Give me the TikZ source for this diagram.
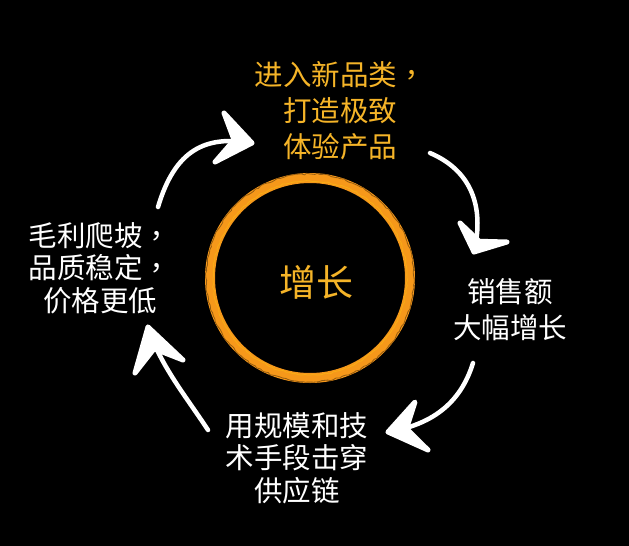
\documentclass[tikz,border=0pt]{standalone}
\usepackage{fontspec}
\newfontfamily\cjk{Noto Sans CJK SC}
\newfontfamily\cjktc{Noto Sans CJK TC}
\newcommand{\cmz}{{\cjktc ，}}
\usetikzlibrary{decorations.pathmorphing,calc}
\definecolor{gold}{RGB}{245,180,40}
\definecolor{ringorange}{RGB}{246,152,26}
\begin{document}
\begin{tikzpicture}[x=1pt,y=-1pt,
  lbl/.style={font=\cjk\fontsize{28.5}{36}\selectfont, align=center, inner sep=0pt, text=white},
  lbltight/.style={lbl, font=\cjk\fontsize{28.5}{32.5}\selectfont},
  chalk/.style={draw=white, line width=4.5pt, line cap=round, line join=round},
  chalkhead/.style={draw=white, fill=white, line width=5pt, line cap=round, line join=round},
  texture/.style={line width=0.8pt, decorate, decoration={random steps, segment length=3pt, amplitude=0.8pt}}
]
\fill[black] (0,0) rectangle (629,546);
\useasboundingbox (0,0) rectangle (629,546);

% ring
\node[circle, draw=ringorange, line width=10pt, minimum size=200pt, inner sep=0pt] (ring) at (310,278) {};
\draw[texture, ringorange!60!black] (ring.center) circle[radius=104pt];
\draw[texture, ringorange!80!yellow] (ring.center) circle[radius=97pt];
\node[font=\cjk\fontsize{37}{40}\selectfont, text=gold, inner sep=0pt] (core) at (316,282) {增长};

% labels
\node[lbl, text=gold] (top) at (340,111) {进入新品类\cmz\\打造极致\\体验产品};
\node[lbl] (right) at (510,310) {销售额\\大幅增长};
\node[lbltight] (bottom) at (297,458) {用规模和技\\术手段击穿\\供应链};
\node[lbltight] (left) at (100,268) {毛利爬坡\cmz\\品质稳定\cmz\\价格更低};

% arrow coordinates
\coordinate (a1s) at (158,207); \coordinate (a1t) at (252,143);
\coordinate (a1p) at (224,113); \coordinate (a1q) at (215,162);
\coordinate (a2s) at (430,153); \coordinate (a2t) at (474,252);
\coordinate (a2p) at (460,223); \coordinate (a2q) at (507,242);
\coordinate (a3s) at (473,363); \coordinate (a3t) at (388,432);
\coordinate (a3p) at (415,402); \coordinate (a3q) at (428,450);
\coordinate (a4s) at (208,430); \coordinate (a4t) at (148,327);
\coordinate (a4p) at (135,373); \coordinate (a4q) at (183,360);

% arrows
\draw[chalk] (a1s) .. controls (175,150) and (205,135) .. (a1t);
\draw[chalkhead] (a1p) -- (a1t) -- (a1q) -- ($(a1t)!0.55!($(a1p)!0.5!(a1q)$)$) -- cycle;
\draw[chalk] (a2s) .. controls (470,170) and (485,205) .. (a2t);
\draw[chalkhead] (a2p) -- (a2t) -- (a2q) -- ($(a2t)!0.55!($(a2p)!0.5!(a2q)$)$) -- cycle;
\draw[chalk] (a3s) .. controls (460,405) and (430,425) .. (a3t);
\draw[chalkhead] (a3p) -- (a3t) -- (a3q) -- ($(a3t)!0.55!($(a3p)!0.5!(a3q)$)$) -- cycle;
\draw[chalk] (a4s) .. controls (185,395) and (160,365) .. (a4t);
\draw[chalkhead] (a4p) -- (a4t) -- (a4q) -- ($(a4t)!0.55!($(a4p)!0.5!(a4q)$)$) -- cycle;
\end{tikzpicture}
\end{document}
